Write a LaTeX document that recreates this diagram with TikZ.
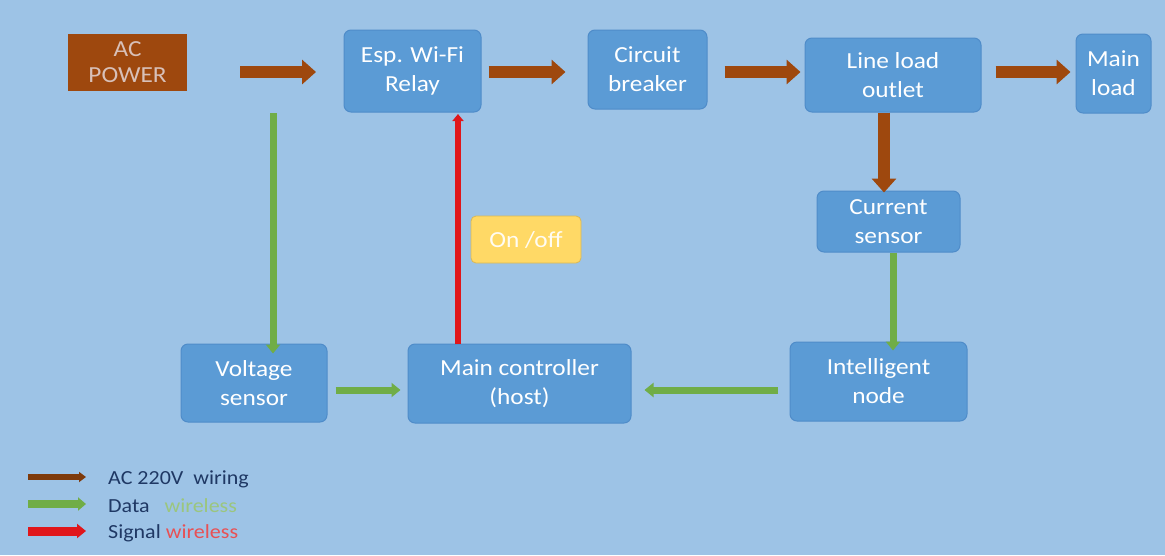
\documentclass[tikz,border=0pt]{standalone}
\usepackage{fontspec}
\setmainfont[FakeStretch=1.1]{Carlito}
\usetikzlibrary{arrows.meta}
\definecolor{bg}{HTML}{9DC3E6}
\definecolor{boxfill}{HTML}{5B9BD5}
\definecolor{boxedge}{HTML}{4F8CC9}
\definecolor{wire}{HTML}{9E480E}
\definecolor{datag}{HTML}{70AD47}
\definecolor{sigr}{HTML}{E0161B}
\definecolor{onoff}{HTML}{FFD966}
\definecolor{navy}{HTML}{1F3864}
\definecolor{acText}{HTML}{D8C0B8}
\tikzset{
  blockbox/.style={draw=boxedge, line width=1pt, fill=boxfill, rounded corners=7pt,
    text=white, font=\fontsize{23}{29}\selectfont, align=center, inner sep=0pt},
  wirearrow/.style={draw=wire, line width=12pt, -{Triangle[width=24pt,length=14pt]}},
  dataarrow/.style={draw=datag, line width=7pt, -{Triangle[width=14pt,length=9pt]}},
  sigarrow/.style={draw=sigr, line width=6pt, -{Triangle[width=11pt,length=7pt]}},
  legtext/.style={anchor=west, font=\fontsize{20}{22}\selectfont, text=navy, inner sep=0pt}
}
\begin{document}
\begin{tikzpicture}[x=1pt,y=-1pt]
\useasboundingbox (0,0) rectangle (1165,555);
\fill[bg] (0,0) rectangle (1165,555);
% nodes
\node[fill=wire, text=acText, font=\fontsize{23}{26}\selectfont, align=center,
      minimum width=119pt, minimum height=57pt, inner sep=0pt] (ac) at (127.5,62.5) {AC\\POWER};
\node[blockbox, minimum width=137pt, minimum height=82pt] (relay) at (412.5,71) {Esp. Wi-Fi\\Relay};
\node[blockbox, minimum width=119pt, minimum height=79pt] (cb) at (647.5,69.5) {Circuit\\breaker};
\node[blockbox, minimum width=176pt, minimum height=74pt] (outlet) at (893,75) {Line load\\outlet};
\node[blockbox, minimum width=75pt, minimum height=79pt] (mainload) at (1113.5,73.5) {Main\\load};
\node[blockbox, minimum width=143pt, minimum height=61pt] (cs) at (888.5,221.5) {Current\\sensor};
\node[blockbox, minimum width=177pt, minimum height=79pt] (inode) at (878.5,381.5) {Intelligent\\node};
\node[blockbox, minimum width=223pt, minimum height=79pt] (mc) at (519.5,383.5) {Main controller\\(host)};
\node[blockbox, minimum width=146pt, minimum height=78pt] (vs) at (254,383) {Voltage\\sensor};
\node[draw=onoff!85!black, line width=0.8pt, fill=onoff, rounded corners=5pt, text=white!92!onoff,
      font=\fontsize{23}{26}\selectfont, minimum width=110pt, minimum height=47pt, inner sep=0pt]
      (onoffbox) at (526,239.5) {On /off};
% coordinates for connector ends
\coordinate (a1) at (240,72);
\coordinate (a2) at (316,72);
\coordinate (vtop) at (273,113);
\coordinate (redtop) at (458,114);
\coordinate (redbot) at (458,344);
% wiring arrows
\draw[wirearrow] (a1) -- (a2);
\draw[wirearrow] ([xshift=7pt]relay.east |- a1) -- ([xshift=-22pt]cb.west |- a1);
\draw[wirearrow] ([xshift=17pt]cb.east |- a1) -- ([xshift=-4pt]outlet.west |- a1);
\draw[wirearrow] ([xshift=14pt]outlet.east |- a1) -- ([xshift=-5pt]mainload.west |- a1);
\draw[wirearrow] (outlet.south -| 884,0) -- ([yshift=-2pt]cs.north -| 884,0);
% data arrows
\draw[dataarrow] (cs.south -| 893,0) -- ([yshift=-9pt]inode.north -| 893,0);
\draw[dataarrow] (vtop) -- ([yshift=-10pt]vs.north -| vtop);
\draw[dataarrow] ([xshift=8pt]vs.east |- 0,390) -- ([xshift=-7pt]mc.west |- 0,390);
\draw[dataarrow] ([xshift=-12pt]inode.west |- 0,390) -- ([xshift=13pt]mc.east |- 0,390);
% signal arrow
\draw[sigarrow] (redbot) -- (redtop);
% legend
\coordinate (l1a) at (28,477); \coordinate (l1b) at (86,477);
\coordinate (l2a) at (28,504); \coordinate (l2b) at (86,504);
\coordinate (l3a) at (28,531); \coordinate (l3b) at (86,531);
\draw[draw=wire!80!black, line width=6pt, -{Triangle[width=10pt,length=7pt]}] (l1a) -- (l1b);
\draw[draw=datag, line width=8pt, -{Triangle[width=13pt,length=8pt]}] (l2a) -- (l2b);
\draw[draw=sigr, line width=9pt, -{Triangle[width=14pt,length=9pt]}] (l3a) -- (l3b);
\node[legtext] (lt1) at (108,479) {AC 220V\ \ wiring};
\node[legtext] (lt2) at (108,506) {Data\ \ \ \textcolor{datag!70!white}{wireless}};
\node[legtext] (lt3) at (108,533) {Signal \textcolor{sigr!75!white}{wireless}};
\end{tikzpicture}
\end{document}
